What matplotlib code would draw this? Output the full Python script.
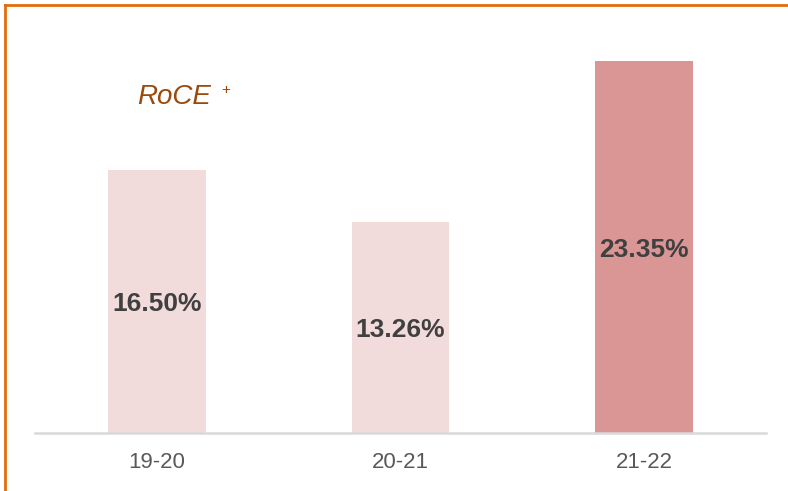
import matplotlib
matplotlib.use("Agg")
import matplotlib.pyplot as plt
from matplotlib.lines import Line2D

plt.rcParams["font.family"] = ["Liberation Sans", "DejaVu Sans"]

# data
years = ["19-20", "20-21", "21-22"]
roce = [16.50, 13.26, 23.35]
bar_colors = ["#F2DCDB", "#F2DCDB", "#D99694"]

W, H = 788, 491
fig = plt.figure(figsize=(W / 100, H / 100), dpi=100)
ax = fig.add_axes([35 / W, 1 - 433 / H, (766 - 35) / W, 398.5 / H])

x = range(len(years))
bars = ax.bar(x, roce, width=0.4, color=bar_colors, zorder=2)
for b, v in zip(bars, roce):
    # value label in the middle of the bar, nudged down a touch
    ax.annotate(f"{v:.2f}%", (b.get_x() + b.get_width() / 2, v / 2),
                xytext=(0, -2), textcoords="offset points",
                ha="center", va="center", fontsize=19, fontweight="bold",
                color="#404040")

ax.set_xlim(-0.5, 2.5)
ax.set_ylim(0, 25)
ax.set_xticks(list(x))
ax.set_xticklabels(years, fontsize=16, color="#595959")
ax.tick_params(axis="x", length=0, pad=14)
ax.set_yticks([])
for side in ("top", "right", "left"):
    ax.spines[side].set_visible(False)
ax.spines["bottom"].set_color("#D9D9D9")
ax.spines["bottom"].set_linewidth(1.8)

# title-ish label
fig.text(137 / W, 1 - 104 / H, "RoCE", fontsize=20, style="italic",
         color="#9C4A0C", va="baseline")
fig.text(221 / W, 1 - 94 / H, "+", fontsize=11, color="#9C4A0C",
         va="baseline")

# orange frame (top and left edges)
fig.add_artist(Line2D([5 / W, 1], [1 - 5 / H, 1 - 5 / H], color="#E46C0A",
                      lw=2, transform=fig.transFigure))
fig.add_artist(Line2D([5 / W, 5 / W], [0, 1 - 5 / H], color="#E46C0A",
                      lw=2, transform=fig.transFigure))

fig.savefig("out.png", dpi=100)
